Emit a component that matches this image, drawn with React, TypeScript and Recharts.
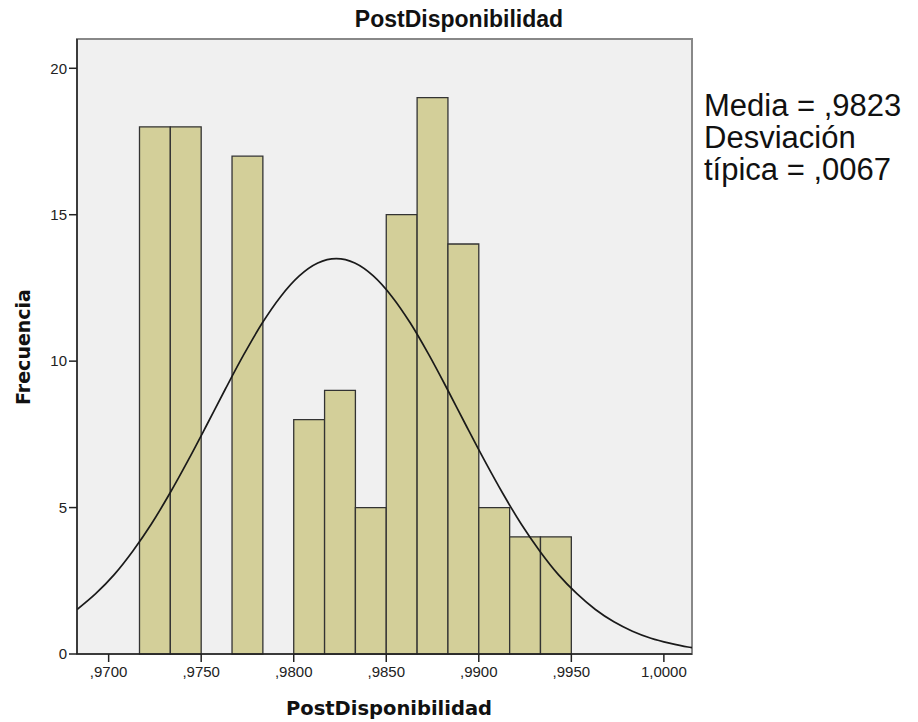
import { ComposedChart, Line, XAxis, YAxis, ReferenceArea } from 'recharts'

// histogram bins (only non-empty ones)
const binLow = [0.971667, 0.973333, 0.976667, 0.98, 0.981667, 0.983333, 0.985, 0.986667, 0.988333, 0.99, 0.991667, 0.993333]
const binHigh = [0.973333, 0.975, 0.978333, 0.981667, 0.983333, 0.985, 0.986667, 0.988333, 0.99, 0.991667, 0.993333, 0.995]
const binCount = [18, 18, 17, 8, 9, 5, 15, 19, 14, 5, 4, 4]

// normal curve
const curveX = [
  0.96829, 0.9693, 0.9703, 0.9713, 0.9723, 0.9733, 0.9743, 0.9753, 0.9763, 0.9773, 0.9783, 0.9793, 0.9803, 0.9813,
  0.9823, 0.9833, 0.9843, 0.9853, 0.9863, 0.9873, 0.9883, 0.9893, 0.9903, 0.9913, 0.9923, 0.9933, 0.9943, 0.9953,
  0.9963, 0.9973, 0.9983, 0.9993, 1.0003, 1.0013, 1.00152,
]
const curveY = [
  1.52, 2.06, 2.71, 3.51, 4.43, 5.48, 6.62, 7.82, 9.04, 10.22, 11.3, 12.21, 12.91, 13.35,
  13.5, 13.35, 12.91, 12.21, 11.3, 10.22, 9.04, 7.82, 6.62, 5.48, 4.43, 3.51, 2.71, 2.06,
  1.52, 1.1, 0.78, 0.54, 0.37, 0.24, 0.22,
]

const xTicks = [0.97, 0.975, 0.98, 0.985, 0.99, 0.995, 1.0]
const yTicks = [0, 5, 10, 15, 20]
const xDomain = [0.96829, 1.00152]
const yDomain = [0, 21]

const statLines = ['Media = ,9823', 'Desviación', 'típica = ,0067']

const chartData = curveX.map((x, i) => ({ x, y: curveY[i] }))

const fmtX = (v: number) => (v >= 1 ? '1,0000' : ',' + v.toFixed(4).slice(2))

const tickStyle = { fontSize: 15, fill: '#222', fontFamily: 'Liberation Sans, Arial, sans-serif' }

export default function App() {
  return (
    <div style={{ position: 'absolute', left: 0, top: 0, width: 918, height: 722, background: '#fff', overflow: 'hidden' }}>
      <ComposedChart
        width={918}
        height={722}
        data={chartData}
        margin={{ top: 39, right: 226, bottom: 0, left: 0 }}
      >
        <XAxis
          type="number"
          dataKey="x"
          domain={xDomain}
          ticks={xTicks}
          allowDataOverflow
          tickFormatter={fmtX}
          height={68}
          tickSize={8}
          tickMargin={4}
          tick={tickStyle}
          axisLine={{ stroke: '#222', strokeWidth: 1.5 }}
          tickLine={{ stroke: '#222', strokeWidth: 1.5 }}
        />
        <YAxis
          type="number"
          domain={yDomain}
          ticks={yTicks}
          allowDataOverflow
          width={77}
          tickSize={8}
          tickMargin={2}
          tick={tickStyle}
          axisLine={{ stroke: '#222', strokeWidth: 1.5 }}
          tickLine={{ stroke: '#222', strokeWidth: 1.5 }}
        />
        <ReferenceArea
          x1={xDomain[0]}
          x2={xDomain[1]}
          y1={yDomain[0]}
          y2={yDomain[1]}
          fill="#f0f0f0"
          fillOpacity={1}
          stroke="#888"
          strokeWidth={2}
        />
        {binCount.map((c, i) => (
          <ReferenceArea
            key={i}
            x1={binLow[i]}
            x2={binHigh[i]}
            y1={0}
            y2={c}
            fill="#d3cf99"
            fillOpacity={1}
            stroke="#333"
            strokeWidth={1.3}
          />
        ))}
        <Line
          type="monotone"
          dataKey="y"
          stroke="#1a1a1a"
          strokeWidth={1.7}
          dot={false}
          activeDot={false}
          isAnimationActive={false}
        />
      </ComposedChart>
      <svg width={918} height={722} style={{ position: 'absolute', left: 0, top: 0, pointerEvents: 'none' }}>
        <text
          x={459}
          y={27}
          textAnchor="middle"
          fontFamily="Liberation Sans, Arial, sans-serif"
          fontWeight="bold"
          fontSize={23}
          fill="#111"
        >
          PostDisponibilidad
        </text>
        <text
          x={389}
          y={715}
          textAnchor="middle"
          fontFamily="DejaVu Sans, sans-serif"
          fontWeight="bold"
          fontSize={19.5}
          fill="#111"
        >
          PostDisponibilidad
        </text>
        <text
          transform="translate(30 347) rotate(-90)"
          textAnchor="middle"
          fontFamily="DejaVu Sans, sans-serif"
          fontWeight="bold"
          fontSize={19}
          fill="#111"
        >
          Frecuencia
        </text>
        {statLines.map((s, i) => (
          <text
            key={s}
            x={704}
            y={116 + i * 32}
            fontFamily="Liberation Sans, Arial, sans-serif"
            fontSize={31}
            fill="#111"
          >
            {s}
          </text>
        ))}
      </svg>
    </div>
  )
}
